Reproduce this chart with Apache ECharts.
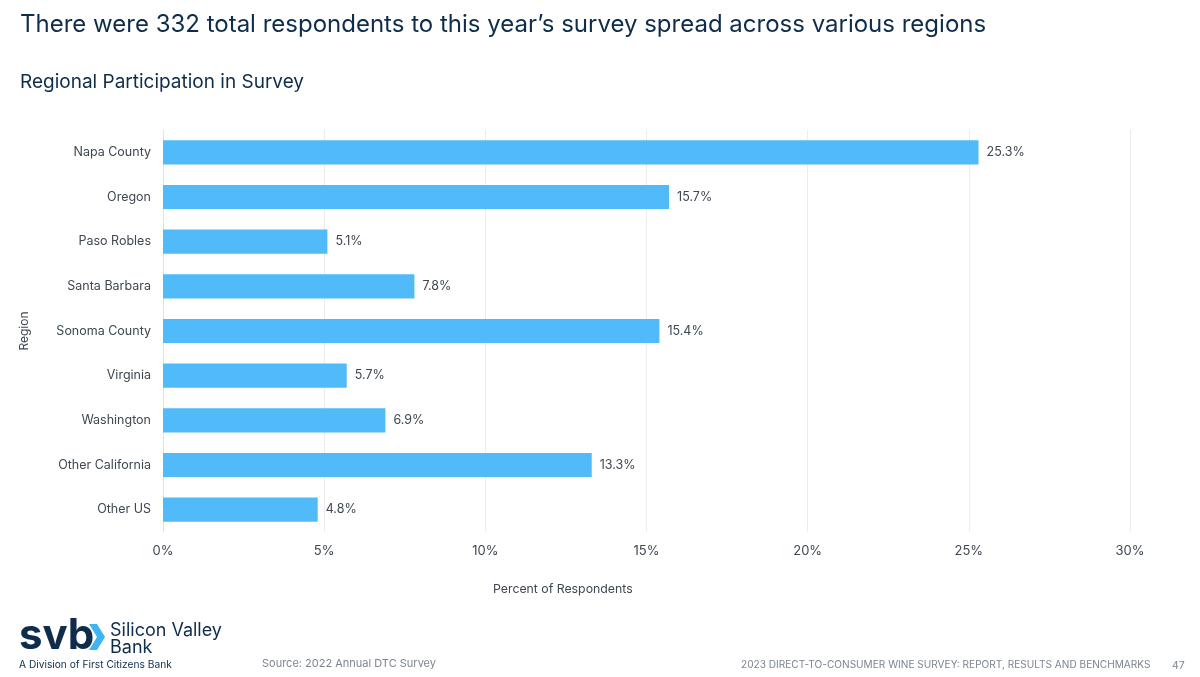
<!DOCTYPE html>
<html>
<head>
<meta charset="utf-8">
<script src="https://cdn.jsdelivr.net/npm/echarts@6/dist/echarts.min.js"></script>
<style>
html,body{margin:0;padding:0;background:#fff;}
#main{width:1200px;height:677px;}
</style>
</head>
<body>
<div id="main"></div>
<script>
const categories = ["Napa County","Oregon","Paso Robles","Santa Barbara","Sonoma County","Virginia","Washington","Other California","Other US"];
const values = [25.3, 15.7, 5.1, 7.8, 15.4, 5.7, 6.9, 13.3, 4.8];
const xTicks = [0, 5, 10, 15, 20, 25, 30];

const navy = '#0f2d4b';
const grey = '#3e4752';
const font = 'Inter';

const chart = echarts.init(document.getElementById('main'));
chart.setOption({
  animation: false,
  backgroundColor: '#ffffff',
  textStyle: { fontFamily: font },
  title: [
    { text: 'There were 332 total respondents to this year\u2019s survey spread across various regions',
      left: 15, top: 8, textStyle: { color: navy, fontSize: 24, fontWeight: 400, fontFamily: font } },
    { text: 'Regional Participation in Survey',
      left: 15, top: 68, textStyle: { color: navy, fontSize: 19, fontWeight: 400, fontFamily: font } }
  ],
  grid: { left: 163, right: 70, top: 130, bottom: 145, containLabel: false },
  xAxis: {
    type: 'value', min: xTicks[0], max: xTicks[xTicks.length-1], interval: 5,
    axisLine: { show: false }, axisTick: { show: false },
    axisLabel: { color: grey, fontSize: 13, margin: 13, formatter: v => v + '%' },
    splitLine: { show: true, lineStyle: { color: '#ececec', width: 1 } }
  },
  yAxis: {
    type: 'category', data: categories, inverse: true,
    name: 'Region', nameLocation: 'middle', nameGap: 133,
    nameTextStyle: { color: grey, fontSize: 12 },
    axisLine: { show: true, lineStyle: { color: '#e2e2e2', width: 1 } },
    axisTick: { show: false },
    axisLabel: { color: grey, fontSize: 12.5, margin: 12 }
  },
  series: [{
    type: 'bar', data: values, barWidth: '54%',
    itemStyle: { color: '#50bbf8' },
    label: { show: true, position: 'right', distance: 8, color: grey, fontSize: 12.5,
      formatter: p => p.value.toFixed(1) + '%' }
  }],
  graphic: [
    { type: 'text', left: 493, top: 583, style: { text: 'Percent of Respondents', fill: grey, font: '12.3px Inter' } },
    { type: 'text', left: 19, top: 615, style: { text: 'svb', fill: navy, font: 'bold 42px Inter' } },
    { type: 'polygon', shape: { points: [[89,624],[97,624],[105,637],[97,650],[89,650],[97,637]] }, style: { fill: '#3fb4f2' } },
    { type: 'text', left: 110, top: 622, style: { text: 'Silicon Valley', fill: navy, font: '18px Inter' } },
    { type: 'text', left: 110, top: 639, style: { text: 'Bank', fill: navy, font: '18px Inter' } },
    { type: 'text', left: 19, top: 660, style: { text: 'A Division of First Citizens Bank', fill: navy, font: '10.2px Inter' } },
    { type: 'text', left: 262, top: 658, style: { text: 'Source: 2022 Annual DTC Survey', fill: '#7d8590', font: '11px Inter' } },
    { type: 'text', left: 741, top: 660, style: { text: '2023 DIRECT-TO-CONSUMER WINE SURVEY: REPORT, RESULTS AND BENCHMARKS', fill: '#7d8590', font: '10.1px Inter' } },
    { type: 'text', left: 1172, top: 660, style: { text: '47', fill: '#7d8590', font: '10.5px Inter' } }
  ]
});
</script>
</body>
</html>
